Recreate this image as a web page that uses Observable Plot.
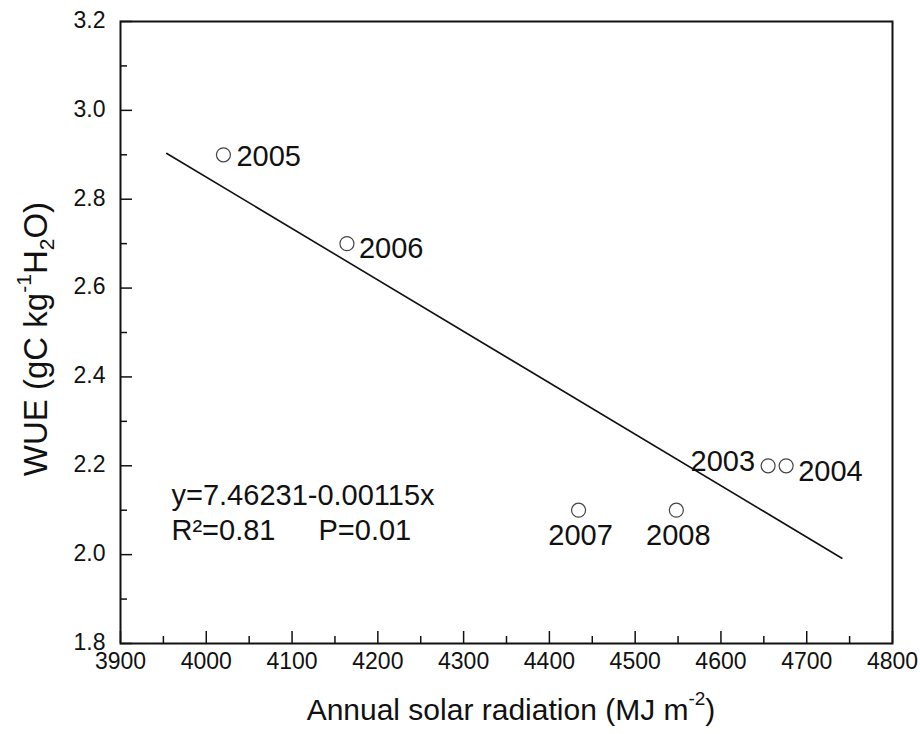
<!DOCTYPE html>
<html><head><meta charset="utf-8">
<script src="https://cdn.jsdelivr.net/npm/d3@7"></script>
<script src="https://cdn.jsdelivr.net/npm/@observablehq/plot@0.6"></script>
<style>
body{margin:0;background:#fff}
svg{font-family:"Liberation Sans",Arial,Helvetica,sans-serif}
</style>
</head><body><div id="chart"></div>
<script>
// ---- data ----
const years = ["2003", "2004", "2005", "2006", "2007", "2008"];
const radiation = [4655, 4676, 4020, 4164, 4434, 4548];
const wue = [2.20, 2.20, 2.90, 2.70, 2.10, 2.10];
const fitRadiation = [3954, 4741];
const fitWue = [2.903, 1.992];
const xDomain = [3900, 4800];
const yDomain = [1.8, 3.2];
const xMajorTicks = [3900, 4000, 4100, 4200, 4300, 4400, 4500, 4600, 4700, 4800];
const xMinorTicks = [3950, 4050, 4150, 4250, 4350, 4450, 4550, 4650, 4750];
const yMajorTicks = [1.8, 2.0, 2.2, 2.4, 2.6, 2.8, 3.0, 3.2];
const yMinorTicks = [1.9, 2.1, 2.3, 2.5, 2.7, 2.9, 3.1];
const equationText = "y=7.46231-0.00115x";
const r2Text = "R\u00B2=0.81";
const pText = "P=0.01";

// ---- build ----
const points = years.map((year, i) => ({year, x: radiation[i], y: wue[i]}));
const fit = fitRadiation.map((x, i) => ({x, y: fitWue[i]}));
const pick = (...ys) => points.filter(d => ys.includes(d.year));

const ink = "#111";
const labelFont = 29;
const tickFont = 23;
const labelOpts = {x: "x", y: "y", text: "year", fontSize: labelFont, fill: ink};
const chart = Plot.plot({
  width: 920,
  height: 734,
  marginLeft: 120,
  marginRight: 28,
  marginTop: 21,
  marginBottom: 91,
  style: {fontFamily: '"Liberation Sans", Arial, sans-serif', background: "white", color: ink},
  x: {domain: xDomain},
  y: {domain: yDomain},
  marks: [
    Plot.line(fit, {x: "x", y: "y", stroke: ink, strokeWidth: 1.6}),
    Plot.dot(points, {x: "x", y: "y", r: 7, stroke: "#444", strokeWidth: 1.2, fill: "white"}),
    Plot.text(pick("2005"), {...labelOpts, textAnchor: "start", dx: 13, dy: 2}),
    Plot.text(pick("2006"), {...labelOpts, textAnchor: "start", dx: 12, dy: 5}),
    Plot.text(pick("2004"), {...labelOpts, textAnchor: "start", dx: 12, dy: 6}),
    Plot.text(pick("2003"), {...labelOpts, textAnchor: "end", dx: -13, dy: -4}),
    Plot.text(pick("2007", "2008"), {...labelOpts, textAnchor: "middle", dx: 2, dy: 26}),
    Plot.text([equationText], {frameAnchor: "bottom-left", text: d => d, textAnchor: "start", dx: 51, dy: -139, fontSize: 29, fill: ink}),
    Plot.text([r2Text], {frameAnchor: "bottom-left", text: d => d, textAnchor: "start", dx: 51, dy: -104, fontSize: 29, fill: ink}),
    Plot.text([pText], {frameAnchor: "bottom-left", text: d => d, textAnchor: "start", dx: 198, dy: -104, fontSize: 29, fill: ink}),
    // tick labels (through the x / y scales)
    Plot.text(xMajorTicks, {x: d => d, frameAnchor: "bottom", text: d => String(d), dy: 25, fontSize: tickFont, fill: ink}),
    Plot.text(yMajorTicks, {y: d => d, frameAnchor: "left", text: d => d3.format(".1f")(d), textAnchor: "end", dx: -15, dy: -1, fontSize: tickFont, fill: ink}),
    // inward ticks
    Plot.axisX({ticks: xMajorTicks, tickSize: -12, label: null, tickFormat: () => "", stroke: ink, strokeWidth: 1.5}),
    Plot.axisX({ticks: xMinorTicks, tickSize: -7, label: null, tickFormat: () => "", stroke: ink, strokeWidth: 1.5}),
    Plot.axisY({ticks: yMajorTicks, tickSize: -12, label: null, tickFormat: () => "", stroke: ink, strokeWidth: 1.5}),
    Plot.axisY({ticks: yMinorTicks, tickSize: -7, label: null, tickFormat: () => "", stroke: ink, strokeWidth: 1.5}),
    Plot.frame({stroke: ink, strokeWidth: 2})
  ]
});

const svg = d3.select(chart);

// y title with sub/superscripts
const yt = svg.append("text")
  .attr("transform", "translate(35,339) rotate(-90)")
  .attr("text-anchor", "middle")
  .attr("dominant-baseline", "central")
  .attr("font-size", 33)
  .attr("fill", ink);
yt.append("tspan").text("WUE (gC kg");
yt.append("tspan").attr("baseline-shift", "super").attr("font-size", 21).text("-1");
yt.append("tspan").text("H");
yt.append("tspan").attr("baseline-shift", "sub").attr("font-size", 21).text("2");
yt.append("tspan").text("O)");

const xt = svg.append("text")
  .attr("x", 511).attr("y", 709)
  .attr("text-anchor", "middle")
  .attr("dominant-baseline", "central")
  .attr("font-size", 30)
  .attr("fill", ink);
xt.append("tspan").text("Annual solar radiation (MJ m");
xt.append("tspan").attr("baseline-shift", "super").attr("font-size", 19).text("-2");
xt.append("tspan").text(")");

document.getElementById("chart").append(chart);
</script>
</body></html>
